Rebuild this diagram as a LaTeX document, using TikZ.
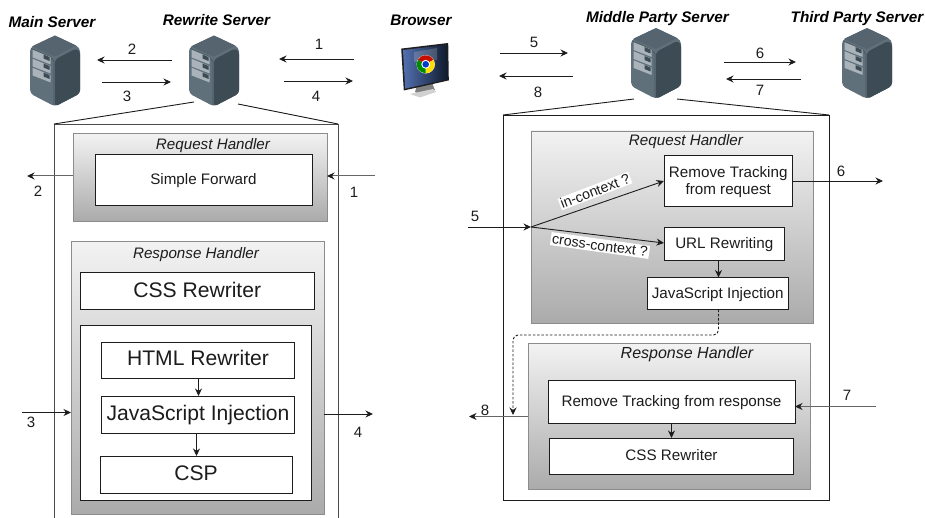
\documentclass[tikz,border=0pt]{standalone}
\usepackage{fontspec}
\setmainfont{Liberation Sans}
\usetikzlibrary{arrows.meta,calc}
\definecolor{ink}{HTML}{1C1C1C}
\definecolor{svL}{HTML}{5F707B}
\definecolor{svR}{HTML}{3D4B55}
\definecolor{svT}{HTML}{55646E}
\definecolor{svB}{HTML}{A9B3B9}
\definecolor{scrL}{HTML}{5270B0}
\definecolor{scrR}{HTML}{101A2C}
\newcommand{\fs}[1]{\fontsize{#1}{#1}\selectfont}
\newcommand{\lift}[2]{\raisebox{#1pt}[0.716em][0pt]{#2}}
\newcommand{\bx}[7]{%
  \pgfmathsetmacro{\bw}{#4-#2}\pgfmathsetmacro{\bh}{#5-#3}%
  \pgfmathsetmacro{\bcx}{(#2+#4)/2}\pgfmathsetmacro{\bcy}{(#3+#5)/2}%
  \node[#6,minimum width=\bw pt,minimum height=\bh pt] (#1) at (\bcx,\bcy) {#7};}
\tikzset{
  x=1pt,y=-1pt,
  box/.style={draw=ink,fill=white,line width=0.9pt,inner sep=0pt,outer sep=0pt,text=ink,align=center},
  handler/.style={draw=black!45,line width=0.9pt,top color=black!5,bottom color=black!33,inner sep=0pt,outer sep=0pt},
  small/.style={font=\fs{15.2}},
  large/.style={font=\fs{21.1}},
  title/.style={font=\fs{15.2}\itshape,text=ink,inner sep=0pt},
  srv/.style={font=\fs{15.3}\bfseries\itshape,text=black,inner sep=0pt},
  num/.style={font=\fs{15},text=ink,inner sep=0pt},
  arr/.style={draw=ink,line width=0.9pt,-{Stealth[length=7.5pt,width=7pt]}},
  grayarr/.style={draw=black!60,line width=1pt,-{Stealth[length=7.5pt,width=7pt,color=ink]}},
  plain/.style={draw=ink,line width=0.9pt},
  tag/.style={fill=white,inner sep=1pt,font=\fs{14.2},text=ink},
  pics/servericon/.style={code={
    \fill[svL,rounded corners=4pt] (0,12) -- (25,0) -- (50,12) -- (50,58) -- (25,71) -- (0,58) -- cycle;
    \fill[svR,rounded corners=3pt] (25,24) -- (46,13) -- (50,16) -- (50,58) -- (25,71) -- cycle;
    \fill[svT] (2,11) -- (25,0) -- (46,10) -- (25,21) -- cycle;
    \draw[black!25!svL,line width=0.6pt] (1,13) -- (20,21) -- (24,26) -- (24,70);
    \foreach \d in {0,9,18}{
      \fill[svB] (2.7,14.3+\d) -- (20.7,21.7+\d) -- (20.7,29+\d) -- (2.7,22+\d) -- cycle;
      \fill[svR] (13.5,19+\d) -- (19.5,21.6+\d) -- (19.5,25.5+\d) -- (13.5,23+\d) -- cycle;
    }
  }}
}
\begin{document}
\begin{tikzpicture}
\useasboundingbox (0,0) rectangle (925,518);
% ---------- server icons
\pic (mainicon) at (30,35.5) {servericon};
\pic (rewriteicon) at (189,35.5) {servericon};
\pic (middleicon) at (631,28) {servericon};
\pic (thirdicon) at (842,28) {servericon};
% ---------- browser monitor
\fill[black!50] (415,92) -- (417,85) -- (432,82) -- (434,88) -- (435,90) -- (420,94) -- cycle;
\fill[black!18] (410,94) -- (433,89) -- (436,92) -- (420,97.5) -- cycle;
\fill[black!88] (401.2,48.6) -- (448.2,43) -- (448.8,80.4) -- (403.8,90.5) -- cycle;
\shade[left color=scrL,right color=scrR] (403,50) -- (447,44.8) -- (447.4,79.4) -- (405.2,88.6) -- cycle;
\fill[white,opacity=.18] (414,52) -- (437,48) -- (437,60) -- (414,62) -- cycle;
\begin{scope}[shift={(425.7,64.3)},x=1pt,y=1pt]
  \fill[white] (0,0) circle (9.2);
  \fill[red!75!black!90!orange] (0,0) -- (30:9) arc[start angle=30,end angle=150,radius=9] -- cycle;
  \fill[yellow!80!orange] (0,0) -- (-90:9) arc[start angle=-90,end angle=30,radius=9] -- cycle;
  \fill[green!55!black] (0,0) -- (150:9) arc[start angle=150,end angle=270,radius=9] -- cycle;
  \fill[white] (0,0) circle (4.4);
  \fill[blue!70!cyan!80!black] (0,0) circle (3.3);
\end{scope}
% ---------- titles of servers
\node[srv] (tmain) at (52,22.5) {\lift{0}{Main Server}};
\node[srv] (trewrite) at (216.5,20.5) {\lift{0}{Rewrite Server}};
\node[srv] (tbrowser) at (421,20.5) {\lift{0}{Browser}};
\node[srv] (tmiddle) at (657.5,17) {\lift{0}{Middle Party Server}};
\node[srv] (tthird) at (857,17) {\lift{0}{Third Party Server}};
% ---------- free ends of the top arrows
\coordinate (a2s) at (172,60); \coordinate (a2e) at (97,60);
\coordinate (a3s) at (102,82); \coordinate (a3e) at (171,82);
\coordinate (a1s) at (354,59); \coordinate (a1e) at (279,59);
\coordinate (a4s) at (284,81); \coordinate (a4e) at (353,81);
\coordinate (a5s) at (500,53); \coordinate (a5e) at (568,53);
\coordinate (a8s) at (573,76); \coordinate (a8e) at (499,76);
\coordinate (a6s) at (724,62); \coordinate (a6e) at (796,62);
\coordinate (a7s) at (801,79); \coordinate (a7e) at (726,79);
\foreach \p in {2,3,1,4,5,8,6,7}{\draw[arr] (a\p s) -- (a\p e);}
\node[num] (n2a) at (132,49) {2};
\node[num] (n3a) at (127,96) {3};
\node[num] (n1a) at (319,44) {1};
\node[num] (n4a) at (316,96) {4};
\node[num] (n5a) at (534,42) {5};
\node[num] (n8a) at (538,92) {8};
\node[num] (n6a) at (760,53) {6};
\node[num] (n7a) at (760,90) {7};
% ---------- left frame
\coordinate (lfTL) at (54,124); \coordinate (lfTR) at (338,124);
\coordinate (lfBL) at (54,518); \coordinate (lfBR) at (338,518);
\coordinate (lzA) at (194,102); \coordinate (lzB) at (238,104);
\draw[plain,draw=black!70] (lfBL) -- (lfTL) -- (lfTR) -- (lfBR);
\draw[plain] (lzA) -- (lfTL) (lzB) -- (lfTR);
% ---------- left request handler
\bx{lreq}{73}{133.5}{327}{221}{handler}{}
\node[title] (lreqt) at (213,144) {\lift{0}{Request Handler}};
\bx{lfwd}{95}{154.5}{312}{205.5}{box,small}{\lift{0.5}{Simple Forward}}
\coordinate (l2e) at (27,176); \coordinate (l1s) at (375,176);
\draw[grayarr] (lreq.west |- l2e) -- (l2e);
\draw[grayarr] (l1s) -- (lreq.east |- l1s);
\node[num] (n2b) at (38,191) {2};
\node[num] (n1b) at (354,192) {1};
% ---------- left response handler
\bx{lres}{71}{241.5}{324}{514}{handler}{}
\node[title] (lrest) at (196,253) {\lift{0}{Response Handler}};
\bx{lcss}{80.5}{272}{314}{309}{box,large}{\lift{1}{CSS Rewriter}}
\bx{linner}{80.5}{325.5}{311}{500.5}{box}{}
\bx{lhtml}{101.5}{342}{294.5}{378.5}{box,large}{\lift{2}{HTML Rewriter}}
\bx{ljs}{101.5}{396}{294.5}{433}{box,large}{\lift{1.5}{JavaScript Injection}}
\bx{lcsp}{100}{456}{292}{493}{box,large}{\lift{1.5}{CSP}}
\draw[arr] (198.5,378.5) -- (198.5,396);
\draw[arr] (196.5,433) -- (196.5,456);
\coordinate (l3s) at (22,412.5); \coordinate (l4e) at (373,414);
\draw[arr] (l3s) -- (lres.west |- l3s);
\draw[arr] (lres.east |- l4e) -- (l4e);
\node[num] (n3b) at (31,422) {3};
\node[num] (n4b) at (358,432) {4};
% ---------- right frame
\bx{rframe}{503}{115}{829}{500}{box}{}
\coordinate (rzA) at (634,99); \coordinate (rzB) at (677,99);
\draw[plain] (rzA) -- (rframe.north west) (rzB) -- (rframe.north east);
% ---------- right request handler
\bx{rreq}{531}{131}{813}{323}{handler}{}
\node[title] (rreqt) at (686,140.5) {\lift{0}{Request Handler}};
\bx{rrem}{664}{155.5}{792.5}{206.5}{box,small}{\raisebox{0pt}[28pt][0pt]{\shortstack{Remove Tracking\\[0.3pt]from request}}}
\bx{rurl}{664}{227}{784.5}{260}{box,small}{\lift{0.5}{URL Rewriting}}
\bx{rjs}{647.5}{277.5}{788}{309.5}{box,small}{\lift{0.5}{JavaScript Injection}}
\node[tag,rotate=21] (tagin) at (595,191) {in-context ?};
\node[tag,rotate=-8,inner sep=1.5pt] (tagcross) at (600,245.5) {cross-context ?};
\coordinate (r5s) at (468,227); \coordinate (rsplit) at (531,227);
\coordinate (r6e) at (883,181); \coordinate (rremin) at (664,181); \coordinate (rurlin) at (664,243);
\draw[arr] (r5s) -- (rsplit);
\draw[arr] (rsplit) -- (rremin);
\draw[arr] (rsplit) -- (rurlin);
\draw[arr] (rrem.east |- r6e) -- (r6e);
\draw[arr] (718.5,260) -- (718.5,277.5);
\node[num] (n5b) at (475,216) {5};
\node[num] (n6b) at (841,171) {6};
% ---------- right response handler
\bx{rres}{528}{343.5}{810}{489}{handler}{}
\node[title,font=\fs{16}\itshape] (rrest) at (687,353) {\lift{0}{Response Handler}};
\bx{rrm}{548}{380}{795}{423}{box,small}{\lift{0.5}{Remove Tracking from response}}
\bx{rcss}{549.5}{438}{793.5}{474}{box,small}{\lift{0.5}{CSS Rewriter}}
\draw[arr] (rrm.south) -- (rcss.north);
\coordinate (r7s) at (876,406.5); \coordinate (r8e) at (469,416.5);
\draw[grayarr] (r7s) -- (rrm.east |- r7s);
\draw[grayarr] (rres.west |- r8e) -- (r8e);
\coordinate (dA) at (718.5,335); \coordinate (dB) at (513,335); \coordinate (dC) at (513,415);
\draw[arr,dash pattern=on 2.5pt off 1.8pt,rounded corners=5pt] (rjs.south -| dA) -- (dA) -- (dB) -- (dC);
\node[num] (n7b) at (847,395) {7};
\node[num] (n8b) at (485,410) {8};
\end{tikzpicture}
\end{document}
